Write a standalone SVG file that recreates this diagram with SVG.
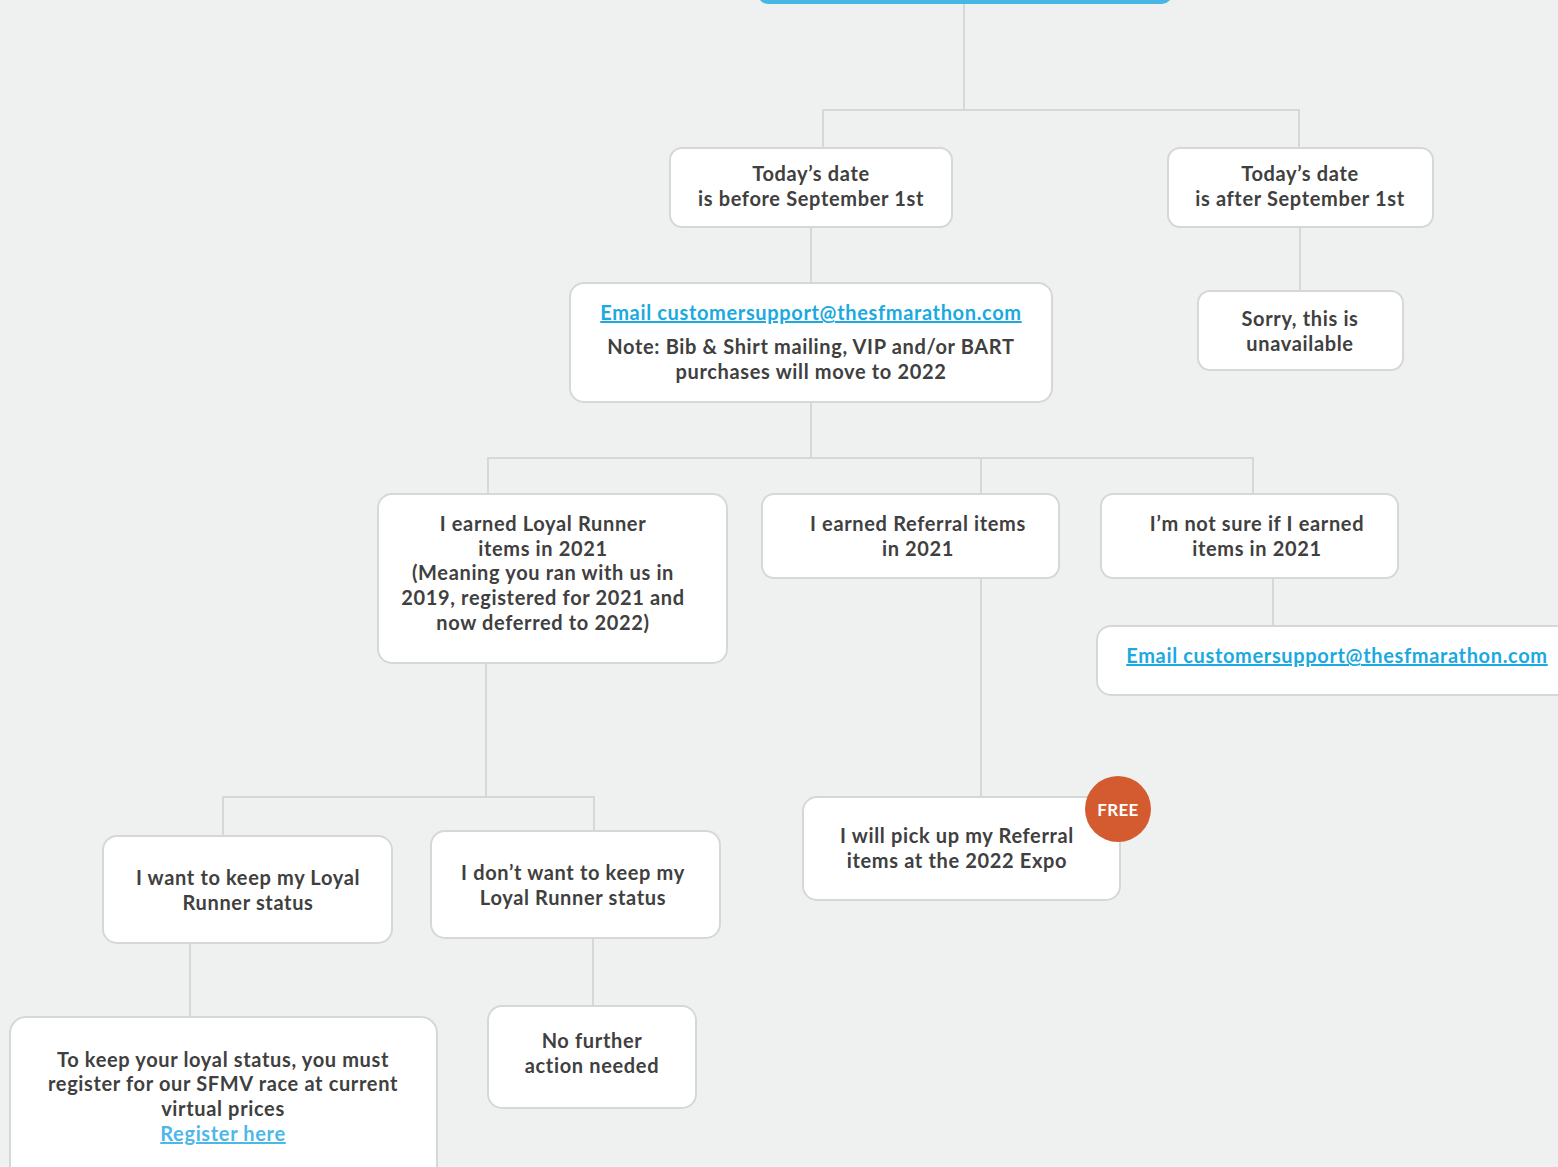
<svg xmlns="http://www.w3.org/2000/svg" width="1558" height="1167" viewBox="0 0 1558 1167">
<style>
.bg{fill:#eff1f0}
.n{fill:#ffffff;stroke:#d6d8d7;stroke-width:2}
.c{fill:none;stroke:#d6d8d7;stroke-width:2}
text{font-family:Lato,"Open Sans","Liberation Sans",sans-serif;font-weight:700;font-size:20px;letter-spacing:0.65px;fill:#404040;text-anchor:middle}
.lk{fill:#1aa9e0;text-decoration:underline}
.lk2{fill:#4db8e8;text-decoration:underline}
.free{fill:#ffffff;font-size:17px;letter-spacing:0.3px}
</style>
<rect class="bg" x="0" y="0" width="1558" height="1167"/>
<rect x="758" y="-20" width="414" height="24" rx="10" fill="#47b6e5"/>
<g id="connectors">
<path class="c" d="M964 4V110M823 148V110H1299V148"/>
<path class="c" d="M811 227V283"/>
<path class="c" d="M1300 227V291"/>
<path class="c" d="M811 402V458M488 494V458H1253V494M981 458V494"/>
<path class="c" d="M1273 578V626"/>
<path class="c" d="M981 578V797"/>
<path class="c" d="M486 663V797M223 836V797H594V831"/>
<path class="c" d="M190 943V1017"/>
<path class="c" d="M593 938V1006"/>
</g>
<g id="before">
<rect class="n" x="670" y="148" width="282" height="79" rx="12"/>
<text x="811" y="181">Today’s date</text>
<text x="811" y="206">is before September 1st</text>
</g>
<g id="after">
<rect class="n" x="1168" y="148" width="265" height="79" rx="12"/>
<text x="1300" y="181">Today’s date</text>
<text x="1300" y="206">is after September 1st</text>
</g>
<g id="email1">
<rect class="n" x="570" y="283" width="482" height="119" rx="14"/>
<text class="lk" x="811" y="320">Email customersupport@thesfmarathon.com</text>
<text x="811" y="354">Note: Bib &amp; Shirt mailing, VIP and/or BART</text>
<text x="811" y="379">purchases will move to 2022</text>
</g>
<g id="sorry">
<rect class="n" x="1198" y="291" width="205" height="79" rx="12"/>
<text x="1300" y="326">Sorry, this is</text>
<text x="1300" y="351">unavailable</text>
</g>
<g id="loyal">
<rect class="n" x="378" y="494" width="349" height="169" rx="14"/>
<text x="543" y="531">I earned Loyal Runner</text>
<text x="543" y="556">items in 2021</text>
<text x="543" y="580">(Meaning you ran with us in</text>
<text x="543" y="605">2019, registered for 2021 and</text>
<text x="543" y="630">now deferred to 2022)</text>
</g>
<g id="referral">
<rect class="n" x="762" y="494" width="297" height="84" rx="12"/>
<text x="918" y="531">I earned Referral items</text>
<text x="918" y="556">in 2021</text>
</g>
<g id="notsure">
<rect class="n" x="1101" y="494" width="297" height="84" rx="12"/>
<text x="1257" y="531">I’m not sure if I earned</text>
<text x="1257" y="556">items in 2021</text>
</g>
<g id="email2">
<rect class="n" x="1097" y="626" width="480" height="69" rx="14"/>
<text class="lk" x="1337" y="663">Email customersupport@thesfmarathon.com</text>
</g>
<g id="pickup">
<rect class="n" x="803" y="797" width="317" height="103" rx="14"/>
<text x="957" y="843">I will pick up my Referral</text>
<text x="957" y="868">items at the 2022 Expo</text>
<circle cx="1118" cy="809" r="33" fill="#d45b2f"/>
<text class="free" x="1118" y="816">FREE</text>
</g>
<g id="keep">
<rect class="n" x="103" y="836" width="289" height="107" rx="14"/>
<text x="248" y="885">I want to keep my Loyal</text>
<text x="248" y="910">Runner status</text>
</g>
<g id="nokeep">
<rect class="n" x="431" y="831" width="289" height="107" rx="14"/>
<text x="573" y="880">I don’t want to keep my</text>
<text x="573" y="905">Loyal Runner status</text>
</g>
<g id="register">
<rect class="n" x="10" y="1017" width="427" height="170" rx="16"/>
<text x="223" y="1067">To keep your loyal status, you must</text>
<text x="223" y="1091">register for our SFMV race at current</text>
<text x="223" y="1116">virtual prices</text>
<text class="lk2" x="223" y="1141">Register here</text>
</g>
<g id="nofurther">
<rect class="n" x="488" y="1006" width="208" height="102" rx="14"/>
<text x="592" y="1048">No further</text>
<text x="592" y="1073">action needed</text>
</g>
</svg>
